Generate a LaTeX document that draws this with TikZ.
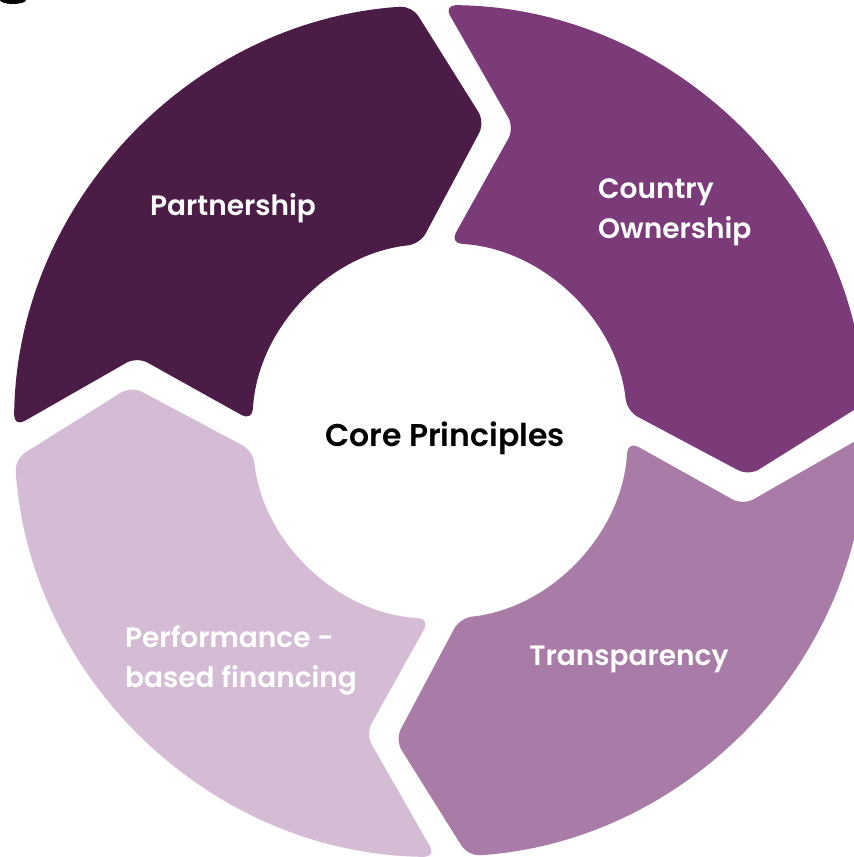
\documentclass[tikz,border=0pt]{standalone}
\usepackage{fontspec}
\setmainfont{Poppins}[BoldFont={* SemiBold},Ligatures=CommonOff]
\definecolor{cPart}{RGB}{74,28,70}
\definecolor{cCoun}{RGB}{123,58,120}
\definecolor{cTran}{RGB}{168,124,166}
\definecolor{cPerf}{RGB}{212,189,212}
\tikzset{
  seg/.style={rounded corners=12},
  lbl/.style={text=white,font=\fontsize{28}{40}\selectfont\bfseries,inner sep=0pt,align=left},
}
% segment: #1 tail gap angle, #2 head gap angle, #3 colour
\newcommand{\ringseg}[3]{%
  \pgfmathsetmacro{\sgTn}{#1-13.773}%
  \pgfmathsetmacro{\sgTo}{#1-0.538}%
  \pgfmathsetmacro{\sgHo}{#2+3.766}%
  \pgfmathsetmacro{\sgHt}{#2-8.264}%
  \pgfmathsetmacro{\sgHi}{#2+6.095}%
  \pgfmathsetmacro{\sgTi}{#1-3.048}%
  \fill[#3,seg] (\sgTn:312) -- (\sgTo:426) arc[start angle=\sgTo, end angle=\sgHo, radius=426]
     -- (\sgHt:312) -- (\sgHi:188) arc[start angle=\sgHi, end angle=\sgTi, radius=188] -- cycle;
}
\begin{document}
\begin{tikzpicture}[x=1pt,y=1pt]
\useasboundingbox (-440,-426) rectangle (414,431);
\clip (-440,-426) rectangle (414,431);
\fill[white] (-440,-426) rectangle (414,431);
\ringseg{180}{90}{cPart}
\ringseg{90}{0}{cCoun}
\ringseg{0}{-90}{cTran}
\ringseg{-90}{-180}{cPerf}
\fill[black] (-427,431) ellipse (13 and 4);
\node[lbl] (part) at (-207,223) {Partnership};
\node[lbl,anchor=west] (coun) at (158,219) {Country\\Ownership};
\node[lbl,anchor=west] (perf) at (-315,-229) {Performance -\\based financing};
\node[lbl] (tran) at (189,-228) {Transparency};
\node[lbl,text=black,font=\fontsize{31.5}{40}\selectfont\bfseries] (core) at (5,-7) {Core Principles};
\end{tikzpicture}
\end{document}
